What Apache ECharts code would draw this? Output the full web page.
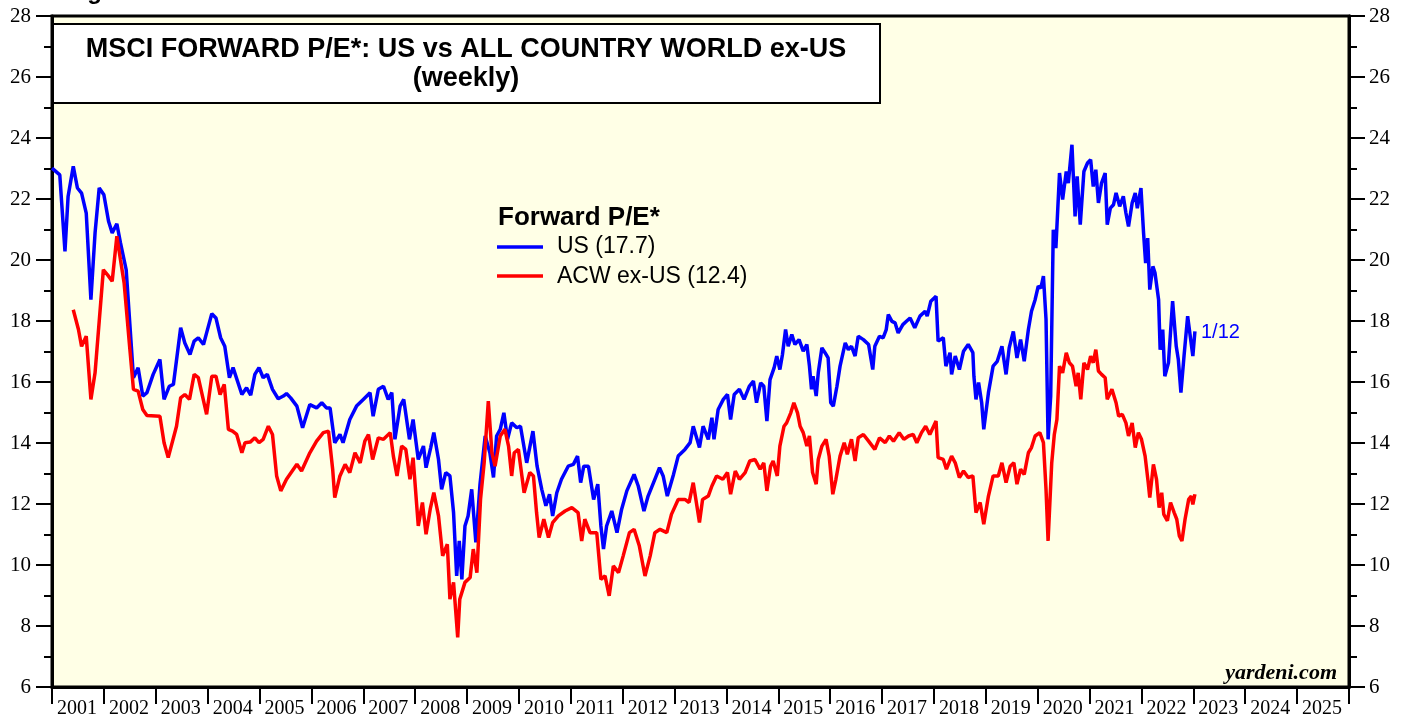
<!DOCTYPE html>
<html>
<head>
<meta charset="utf-8">
<script src="https://cdn.jsdelivr.net/npm/echarts@6/dist/echarts.min.js"></script>
<style>
  html, body { margin: 0; padding: 0; background: #fff; }
  #main { width: 1407px; height: 719px; }
</style>
</head>
<body>
<div id="main"></div>
<script>
// MSCI forward P/E, weekly (as [year, value])
const usPE = [
  [2001.00, 23.01], [2001.15, 22.79], [2001.25, 20.28], [2001.31, 22.08], [2001.41, 23.07],
  [2001.49, 22.36], [2001.57, 22.19], [2001.66, 21.54], [2001.75, 18.70], [2001.83, 20.89],
  [2001.91, 22.36], [2002.00, 22.14], [2002.09, 21.27], [2002.16, 20.89], [2002.25, 21.19],
  [2002.32, 20.56], [2002.43, 19.68], [2002.49, 18.16], [2002.57, 16.14], [2002.66, 16.47],
  [2002.75, 15.54], [2002.83, 15.65], [2002.95, 16.25], [2003.08, 16.74], [2003.16, 15.43],
  [2003.26, 15.86], [2003.34, 15.92], [2003.48, 17.78], [2003.56, 17.28], [2003.66, 16.90],
  [2003.74, 17.34], [2003.82, 17.45], [2003.92, 17.23], [2003.98, 17.61], [2004.08, 18.24],
  [2004.16, 18.10], [2004.25, 17.45], [2004.33, 17.17], [2004.42, 16.14], [2004.49, 16.47],
  [2004.66, 15.59], [2004.75, 15.81], [2004.83, 15.57], [2004.91, 16.25], [2004.99, 16.47],
  [2005.07, 16.14], [2005.15, 16.25], [2005.25, 15.76], [2005.36, 15.45], [2005.46, 15.54],
  [2005.52, 15.62], [2005.60, 15.48], [2005.72, 15.21], [2005.83, 14.50], [2005.97, 15.26],
  [2006.10, 15.15], [2006.20, 15.32], [2006.29, 15.15], [2006.36, 15.15], [2006.45, 14.01],
  [2006.55, 14.28], [2006.61, 14.01], [2006.74, 14.77], [2006.87, 15.21], [2007.00, 15.43],
  [2007.13, 15.65], [2007.19, 14.88], [2007.29, 15.76], [2007.39, 15.86], [2007.48, 15.43],
  [2007.55, 15.65], [2007.61, 14.12], [2007.71, 15.21], [2007.78, 15.43], [2007.89, 14.12],
  [2007.96, 14.77], [2008.06, 13.46], [2008.16, 13.90], [2008.21, 13.19], [2008.30, 13.85],
  [2008.36, 14.34], [2008.45, 13.46], [2008.51, 12.48], [2008.59, 13.03], [2008.67, 12.92],
  [2008.74, 11.72], [2008.80, 9.64], [2008.85, 10.79], [2008.90, 9.53], [2008.96, 11.28],
  [2009.02, 11.61], [2009.09, 12.48], [2009.17, 10.74], [2009.25, 12.65], [2009.35, 14.23],
  [2009.44, 13.68], [2009.51, 12.87], [2009.57, 14.23], [2009.64, 14.45], [2009.71, 14.99],
  [2009.78, 14.12], [2009.86, 14.66], [2009.96, 14.50], [2010.03, 14.55], [2010.15, 13.35],
  [2010.27, 14.39], [2010.35, 13.24], [2010.44, 12.48], [2010.52, 11.94], [2010.59, 12.32],
  [2010.65, 11.61], [2010.73, 12.37], [2010.82, 12.81], [2010.95, 13.24], [2011.05, 13.30],
  [2011.13, 13.57], [2011.19, 12.70], [2011.25, 13.24], [2011.34, 13.24], [2011.44, 12.15],
  [2011.52, 12.65], [2011.58, 11.28], [2011.63, 10.52], [2011.69, 11.28], [2011.79, 11.77],
  [2011.89, 11.06], [2011.98, 11.83], [2012.08, 12.43], [2012.22, 12.97], [2012.30, 12.59],
  [2012.41, 11.77], [2012.49, 12.26], [2012.62, 12.81], [2012.71, 13.19], [2012.78, 12.92],
  [2012.86, 12.26], [2012.98, 12.97], [2013.07, 13.57], [2013.20, 13.79], [2013.30, 14.01],
  [2013.36, 14.55], [2013.48, 13.85], [2013.55, 14.55], [2013.65, 14.12], [2013.72, 14.83],
  [2013.76, 14.12], [2013.84, 15.10], [2013.94, 15.43], [2014.02, 15.59], [2014.08, 14.77],
  [2014.15, 15.59], [2014.25, 15.76], [2014.34, 15.43], [2014.44, 15.86], [2014.52, 16.03],
  [2014.58, 15.32], [2014.66, 15.97], [2014.72, 15.86], [2014.78, 14.72], [2014.84, 16.08],
  [2014.92, 16.47], [2014.97, 16.85], [2015.03, 16.41], [2015.08, 16.90], [2015.14, 17.72],
  [2015.19, 17.17], [2015.26, 17.56], [2015.32, 17.23], [2015.40, 17.39], [2015.48, 17.01],
  [2015.55, 17.23], [2015.60, 16.52], [2015.64, 15.76], [2015.67, 16.19], [2015.73, 15.54],
  [2015.77, 16.30], [2015.84, 17.12], [2015.90, 16.96], [2015.96, 16.79], [2016.01, 15.32],
  [2016.06, 15.21], [2016.13, 15.86], [2016.19, 16.52], [2016.29, 17.28], [2016.35, 17.06],
  [2016.41, 17.17], [2016.48, 16.85], [2016.54, 17.50], [2016.64, 17.39], [2016.74, 17.23],
  [2016.82, 16.41], [2016.86, 17.17], [2016.95, 17.50], [2017.02, 17.45], [2017.08, 17.72],
  [2017.12, 18.21], [2017.19, 17.99], [2017.25, 17.94], [2017.31, 17.61], [2017.40, 17.88],
  [2017.47, 17.99], [2017.54, 18.10], [2017.63, 17.78], [2017.73, 18.16], [2017.83, 18.32],
  [2017.87, 18.16], [2017.94, 18.65], [2018.04, 18.81], [2018.08, 17.34], [2018.18, 17.45],
  [2018.23, 16.52], [2018.31, 16.96], [2018.34, 16.25], [2018.41, 16.85], [2018.49, 16.41],
  [2018.57, 17.01], [2018.66, 17.23], [2018.75, 16.96], [2018.77, 16.19], [2018.81, 15.43],
  [2018.86, 15.98], [2018.92, 15.32], [2018.96, 14.45], [2019.05, 15.65], [2019.14, 16.52],
  [2019.22, 16.68], [2019.31, 17.17], [2019.39, 16.25], [2019.45, 17.12], [2019.53, 17.66],
  [2019.60, 16.79], [2019.67, 17.39], [2019.74, 16.68], [2019.82, 17.72], [2019.88, 18.32],
  [2019.95, 18.70], [2020.01, 19.14], [2020.06, 19.08], [2020.11, 19.47], [2020.16, 18.05],
  [2020.20, 14.12], [2020.25, 15.54], [2020.30, 20.99], [2020.35, 20.39], [2020.42, 22.85],
  [2020.48, 21.98], [2020.55, 22.90], [2020.59, 22.52], [2020.66, 23.78], [2020.72, 21.43],
  [2020.76, 22.74], [2020.82, 21.16], [2020.89, 22.90], [2020.96, 23.18], [2021.02, 23.29],
  [2021.07, 22.41], [2021.12, 22.96], [2021.17, 21.87], [2021.23, 22.52], [2021.30, 22.85],
  [2021.34, 21.16], [2021.40, 21.70], [2021.46, 21.81], [2021.51, 22.20], [2021.58, 21.76],
  [2021.65, 22.09], [2021.70, 21.54], [2021.75, 21.10], [2021.82, 21.87], [2021.88, 22.20],
  [2021.92, 21.70], [2021.99, 22.36], [2022.04, 20.89], [2022.08, 19.90], [2022.12, 20.72],
  [2022.16, 19.03], [2022.22, 19.79], [2022.26, 19.58], [2022.33, 18.70], [2022.36, 17.06],
  [2022.41, 17.72], [2022.45, 16.19], [2022.52, 16.63], [2022.60, 18.65], [2022.67, 17.17],
  [2022.71, 16.74], [2022.76, 15.65], [2022.82, 16.85], [2022.89, 18.16], [2022.94, 17.50],
  [2022.99, 16.85], [2023.03, 17.66]
];

const acwPE = [
  [2001.41, 18.37], [2001.51, 17.72], [2001.57, 17.17], [2001.66, 17.50], [2001.75, 15.43],
  [2001.83, 16.30], [2001.99, 19.68], [2002.09, 19.47], [2002.16, 19.30], [2002.25, 20.78],
  [2002.32, 20.01], [2002.39, 19.25], [2002.49, 17.28], [2002.57, 15.76], [2002.66, 15.70],
  [2002.75, 15.10], [2002.83, 14.90], [2003.08, 14.88], [2003.16, 14.01], [2003.24, 13.52],
  [2003.40, 14.55], [2003.48, 15.48], [2003.56, 15.59], [2003.65, 15.43], [2003.74, 16.25],
  [2003.82, 16.14], [2003.98, 14.94], [2004.08, 16.19], [2004.16, 16.19], [2004.24, 15.59],
  [2004.32, 15.92], [2004.40, 14.45], [2004.48, 14.39], [2004.56, 14.28], [2004.66, 13.68],
  [2004.72, 14.01], [2004.82, 14.03], [2004.91, 14.17], [2004.99, 14.01], [2005.07, 14.12],
  [2005.17, 14.55], [2005.25, 14.28], [2005.33, 12.92], [2005.41, 12.43], [2005.52, 12.81],
  [2005.72, 13.30], [2005.81, 13.08], [2005.97, 13.68], [2006.10, 14.06], [2006.23, 14.34],
  [2006.33, 14.39], [2006.41, 13.14], [2006.45, 12.21], [2006.55, 12.92], [2006.65, 13.30],
  [2006.74, 13.03], [2006.84, 13.68], [2006.94, 13.35], [2007.03, 14.06], [2007.10, 14.28],
  [2007.18, 13.46], [2007.29, 14.17], [2007.39, 14.12], [2007.52, 14.34], [2007.58, 13.57],
  [2007.65, 12.92], [2007.74, 13.90], [2007.82, 13.79], [2007.90, 12.81], [2007.96, 13.52],
  [2008.06, 11.28], [2008.14, 12.05], [2008.21, 11.01], [2008.29, 11.83], [2008.36, 12.37],
  [2008.45, 11.61], [2008.53, 10.30], [2008.62, 10.68], [2008.67, 8.88], [2008.74, 9.43],
  [2008.82, 7.63], [2008.86, 8.88], [2008.96, 9.43], [2009.06, 9.59], [2009.12, 10.52],
  [2009.19, 9.75], [2009.26, 12.15], [2009.33, 13.35], [2009.41, 15.37], [2009.48, 13.68],
  [2009.54, 13.24], [2009.64, 14.23], [2009.73, 14.45], [2009.80, 13.90], [2009.86, 12.92],
  [2009.91, 13.68], [2009.99, 13.79], [2010.10, 12.37], [2010.21, 13.03], [2010.28, 12.92],
  [2010.34, 11.72], [2010.39, 10.90], [2010.48, 11.50], [2010.57, 10.90], [2010.65, 11.39],
  [2010.76, 11.61], [2010.89, 11.77], [2011.02, 11.88], [2011.14, 11.72], [2011.21, 10.79],
  [2011.27, 11.50], [2011.37, 11.06], [2011.50, 11.06], [2011.58, 9.53], [2011.66, 9.64],
  [2011.74, 8.99], [2011.82, 9.97], [2011.92, 9.75], [2012.01, 10.30], [2012.13, 11.06],
  [2012.22, 11.17], [2012.32, 10.63], [2012.43, 9.64], [2012.53, 10.30], [2012.62, 11.06],
  [2012.72, 11.17], [2012.85, 11.06], [2012.94, 11.66], [2013.07, 12.15], [2013.20, 12.15],
  [2013.28, 12.05], [2013.36, 12.70], [2013.43, 11.94], [2013.48, 11.39], [2013.54, 12.15],
  [2013.65, 12.26], [2013.72, 12.59], [2013.81, 12.92], [2013.93, 12.81], [2014.02, 13.03],
  [2014.08, 12.32], [2014.17, 13.08], [2014.25, 12.81], [2014.36, 13.03], [2014.45, 13.41],
  [2014.55, 13.46], [2014.65, 13.14], [2014.72, 13.35], [2014.78, 12.43], [2014.85, 13.24],
  [2014.90, 13.41], [2014.98, 12.92], [2015.03, 13.90], [2015.11, 14.55], [2015.16, 14.66],
  [2015.24, 14.99], [2015.30, 15.32], [2015.37, 14.99], [2015.42, 14.55], [2015.48, 14.34],
  [2015.55, 13.90], [2015.60, 14.23], [2015.66, 13.03], [2015.73, 12.65], [2015.77, 13.46],
  [2015.84, 13.90], [2015.92, 14.12], [2015.98, 13.57], [2016.05, 12.32], [2016.11, 12.81],
  [2016.19, 13.57], [2016.27, 14.01], [2016.33, 13.63], [2016.41, 14.12], [2016.48, 13.41],
  [2016.54, 14.17], [2016.64, 14.28], [2016.74, 14.06], [2016.86, 13.79], [2016.95, 14.17],
  [2017.06, 14.01], [2017.14, 14.23], [2017.22, 14.06], [2017.33, 14.34], [2017.42, 14.12],
  [2017.51, 14.23], [2017.60, 14.28], [2017.67, 14.01], [2017.76, 14.34], [2017.84, 14.55],
  [2017.92, 14.28], [2018.04, 14.72], [2018.08, 13.52], [2018.18, 13.46], [2018.24, 13.14],
  [2018.34, 13.57], [2018.41, 13.35], [2018.49, 12.87], [2018.57, 13.08], [2018.66, 12.87],
  [2018.75, 12.92], [2018.81, 11.72], [2018.89, 12.05], [2018.96, 11.34], [2019.05, 12.26],
  [2019.14, 12.92], [2019.24, 12.92], [2019.31, 13.35], [2019.39, 12.70], [2019.47, 13.24],
  [2019.54, 13.35], [2019.60, 12.65], [2019.67, 13.14], [2019.74, 12.97], [2019.82, 13.68],
  [2019.88, 13.85], [2019.95, 14.23], [2020.04, 14.34], [2020.11, 14.01], [2020.16, 12.48],
  [2020.20, 10.79], [2020.27, 13.35], [2020.32, 14.28], [2020.37, 14.77], [2020.42, 16.52],
  [2020.48, 16.30], [2020.55, 16.96], [2020.61, 16.63], [2020.67, 16.52], [2020.74, 15.86],
  [2020.78, 16.30], [2020.83, 15.43], [2020.89, 16.63], [2020.96, 16.41], [2021.02, 16.85],
  [2021.07, 16.63], [2021.12, 17.06], [2021.17, 16.36], [2021.23, 16.25], [2021.30, 16.14],
  [2021.34, 15.43], [2021.43, 15.76], [2021.51, 15.32], [2021.56, 14.88], [2021.63, 14.94],
  [2021.70, 14.66], [2021.75, 14.23], [2021.82, 14.66], [2021.88, 13.85], [2021.94, 14.34],
  [2022.00, 14.12], [2022.07, 13.57], [2022.13, 12.70], [2022.16, 12.21], [2022.23, 13.30],
  [2022.29, 12.81], [2022.34, 11.88], [2022.39, 12.37], [2022.43, 11.66], [2022.50, 11.45],
  [2022.56, 12.05], [2022.63, 11.72], [2022.68, 11.50], [2022.73, 10.95], [2022.78, 10.79],
  [2022.84, 11.50], [2022.91, 12.15], [2022.96, 12.26], [2022.99, 11.99], [2023.03, 12.32]
];

const yearMin = 2001
const yearMax = 2026

const chart = echarts.init(document.getElementById('main'));

const yAxisBase = {
  type: 'value',
  min: 6,
  max: 28,
  interval: 2,
  axisLine: {show: true, lineStyle: {color: '#000', width: 3}},
  axisTick: {show: true, inside: false, length: 16, lineStyle: {color: '#000', width: 2}},
  minorTick: {show: true, splitNumber: 2, length: 8, lineStyle: {color: '#000', width: 2}},
  splitLine: {show: false},
  axisLabel: {color: '#000', fontFamily: 'Liberation Serif', fontSize: 21, margin: 21}
};

const option = {
  animation: false,
  backgroundColor: '#fff',
  grid: {
    left: 52, right: 58, top: 16, bottom: 31,
    show: true,
    backgroundColor: '#FFFFE6',
    borderColor: '#000',
    borderWidth: 3
  },
  xAxis: {
    type: 'value',
    min: yearMin,
    max: yearMax,
    interval: 1,
    axisLine: {lineStyle: {color: '#000', width: 3}},
    axisTick: {length: 17, lineStyle: {color: '#000', width: 2}},
    splitLine: {show: false},
    axisLabel: {
      color: '#000',
      fontFamily: 'Liberation Serif',
      fontSize: 20,
      margin: 12,
      align: 'left',
      padding: [0, 0, 0, 5],
      formatter: v => (v < yearMax ? String(v) : '')
    }
  },
  yAxis: [
    Object.assign({}, yAxisBase, {position: 'left'}),
    Object.assign({}, yAxisBase, {position: 'right', axisLabel: Object.assign({}, yAxisBase.axisLabel, {margin: 20})})
  ],
  series: [
    {
      name: 'US',
      type: 'line',
      data: usPE,
      showSymbol: false,
      lineStyle: {color: '#0000FF', width: 3.5},
      itemStyle: {color: '#0000FF'}
    },
    {
      name: 'ACW ex-US',
      type: 'line',
      data: acwPE,
      showSymbol: false,
      lineStyle: {color: '#FF0000', width: 3.5},
      itemStyle: {color: '#FF0000'}
    }
  ],
  graphic: [
    {type: 'text', x: 66, y: -8, style: {text: 'Figure 5.', font: 'bold 24px "Liberation Sans"', fill: '#000', align: 'left', verticalAlign: 'middle'}},
    {type: 'rect', shape: {x: 52, y: 24, width: 828, height: 79}, style: {fill: '#fff', stroke: '#000', lineWidth: 2}},
    {type: 'text', x: 466, y: 50, style: {text: 'MSCI FORWARD P/E*: US vs ALL COUNTRY WORLD ex-US', font: 'bold 27px "Liberation Sans"', fill: '#000', align: 'center', verticalAlign: 'middle'}},
    {type: 'text', x: 466, y: 79, style: {text: '(weekly)', font: 'bold 27px "Liberation Sans"', fill: '#000', align: 'center', verticalAlign: 'middle'}},
    // legend
    {type: 'text', x: 498, y: 218, style: {text: 'Forward P/E*', font: 'bold 26px "Liberation Sans"', fill: '#000', align: 'left', verticalAlign: 'middle'}},
    {type: 'line', shape: {x1: 497, y1: 247, x2: 543, y2: 247}, style: {stroke: '#0000FF', lineWidth: 3.5}},
    {type: 'text', x: 557, y: 247, style: {text: 'US (17.7)', font: '23px "Liberation Sans"', fill: '#000', align: 'left', verticalAlign: 'middle'}},
    {type: 'line', shape: {x1: 497, y1: 276, x2: 543, y2: 276}, style: {stroke: '#FF0000', lineWidth: 3.5}},
    {type: 'text', x: 557, y: 277, style: {text: 'ACW ex-US (12.4)', font: '23px "Liberation Sans"', fill: '#000', align: 'left', verticalAlign: 'middle'}},
    // last date marker
    {type: 'text', x: 1201, y: 332, style: {text: '1/12', font: '20px "Liberation Sans"', fill: '#0000FF', align: 'left', verticalAlign: 'middle'}},
    {type: 'text', x: 1337, y: 673, style: {text: 'yardeni.com', font: 'italic bold 22px "Liberation Serif"', fill: '#000', align: 'right', verticalAlign: 'middle'}}
  ]
};

chart.setOption(option);
</script>
</body>
</html>
